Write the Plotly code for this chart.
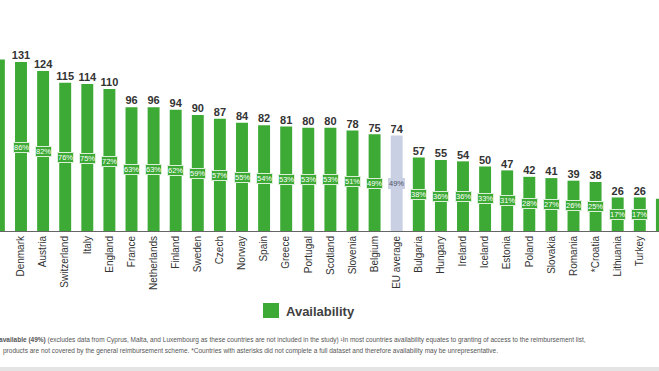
import plotly.graph_objects as go

countries = ["Germany", "Denmark", "Austria", "Switzerland", "Italy", "England", "France",
             "Netherlands", "Finland", "Sweden", "Czech", "Norway", "Spain", "Greece",
             "Portugal", "Scotland", "Slovenia", "Belgium", "EU average", "Bulgaria",
             "Hungary", "Ireland", "Iceland", "Estonia", "Poland", "Slovakia", "Romania",
             "*Croatia", "Lithuania", "Turkey", "Latvia"]
availability = [133, 131, 124, 115, 114, 110, 96, 96, 94, 90, 87, 84, 82, 81, 80, 80, 78, 75,
                74, 57, 55, 54, 50, 47, 42, 41, 39, 38, 26, 26, 25]
percent = [87, 86, 82, 76, 75, 72, 63, 63, 62, 59, 57, 55, 54, 53, 53, 53, 51, 49, 49, 38,
           36, 36, 33, 31, 28, 27, 26, 25, 17, 17, 16]

GREEN = "#3caa34"
EU = "#c9d0e4"
W, H = 659, 371
T, B = 10, 140
PH = H - T - B


def py(p):  # page pixel y -> paper y
    return (H - B - p) / PH


def px(p):
    return p / W


colors = [EU if c == "EU average" else GREEN for c in countries]

fig = go.Figure()
fig.add_trace(go.Bar(
    x=countries, y=availability, marker_color=colors, marker_line_width=0,
    showlegend=False, name="Availability", hoverinfo="x+y"))
fig.add_trace(go.Scatter(
    x=countries, y=availability, mode="text", text=[str(v) for v in availability],
    textposition="top center", cliponaxis=False, showlegend=False, hoverinfo="skip",
    textfont=dict(family="Liberation Sans", size=11, color="#333333", weight="bold")))
fig.add_trace(go.Scatter(x=countries, y=percent, yaxis="y2", mode="markers",
                         marker=dict(opacity=0), showlegend=False, hoverinfo="skip"))

annotations = []
for c, p in zip(countries, percent):
    eu = c == "EU average"
    annotations.append(dict(
        x=c, y=p, xref="x", yref="y2", text=f"{p}%", showarrow=False,
        font=dict(family="Liberation Sans", size=7.5, color="#4a4f66" if eu else "white"),
        bgcolor=EU if eu else GREEN, bordercolor="#dcefd8" if not eu else EU,
        borderwidth=1, borderpad=0))

# legend
annotations.append(dict(x=px(284), y=py(311), xref="paper", yref="paper", xanchor="left",
                        yanchor="middle", text="<b>Availability</b>", showarrow=False,
                        font=dict(family="Liberation Sans", size=13, color="#404040")))
# footnotes
annotations.append(dict(
    x=px(588), y=py(340), xref="paper", yref="paper", xanchor="right", yanchor="middle",
    showarrow=False, font=dict(family="Liberation Sans", size=6.5, color="#555555"),
    text="EU average of products <b>available (49%)</b> (excludes data from Cyprus, Malta, and Luxembourg as these countries are not included in the study) ¹In most countries availability equates to granting of access to the reimbursement list,"))
annotations.append(dict(
    x=px(1), y=py(351), xref="paper", yref="paper", xanchor="left", yanchor="middle",
    showarrow=False, font=dict(family="Liberation Sans", size=6.5, color="#555555"),
    text="products are not covered by the general reimbursement scheme. *Countries with asterisks did not complete a full dataset and therefore availability may be unrepresentative."))

shapes = [
    dict(type="rect", xref="paper", yref="paper", x0=px(263), x1=px(279), y0=py(318), y1=py(303),
         fillcolor=GREEN, line_width=0),
    dict(type="rect", xref="paper", yref="paper", x0=0, x1=1, y0=py(371), y1=py(367),
         fillcolor="#e4e4e4", line_width=0),
]

fig.update_layout(
    width=W, height=H, margin=dict(l=0, r=0, t=T, b=B),
    paper_bgcolor="white", plot_bgcolor="white", bargap=0.46,
    xaxis=dict(type="category", categoryorder="array", categoryarray=countries,
               range=[0.05, 0.05 + W / 22.1], tickangle=-90, showline=True,
               linecolor="#666666", linewidth=1, showgrid=False, ticks="", automargin=False,
               tickfont=dict(family="Liberation Sans", size=10, color="#333333")),
    yaxis=dict(range=[0, PH / 1.29], visible=False, showgrid=False, automargin=False),
    yaxis2=dict(range=[0, PH / 0.97], overlaying="y", visible=False, showgrid=False),
    annotations=annotations, shapes=shapes, showlegend=False,
)

fig.write_html("out.html", config={"displayModeBar": False},
               post_script="document.body.style.margin='0';document.body.style.overflow='hidden';")
